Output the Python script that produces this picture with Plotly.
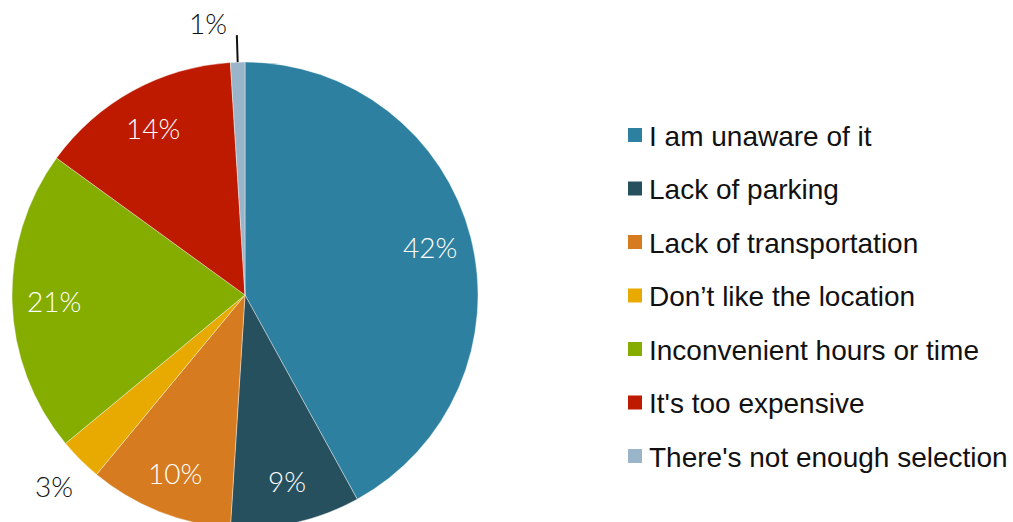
import math
import plotly.graph_objects as go

labels = ["I am unaware of it", "Lack of parking", "Lack of transportation",
          "Don\u2019t like the location", "Inconvenient hours or time",
          "It's too expensive", "There's not enough selection"]
values = [42, 9, 10, 3, 21, 14, 1]
colors = ["#2E80A0", "#27505F", "#D67B1F", "#E8AA00", "#84AD00", "#BD1A00", "#9AB5C9"]
label_place = ["inside", "inside", "inside", "outside", "inside", "inside", "leader"]

W, H = 1013, 530
# pie box in pixels
px0, px1, py0, py1 = 12, 478, 62, 528
cx, cy = (px0 + px1) / 2, (py0 + py1) / 2
R = (px1 - px0) / 2

fig = go.Figure()
fig.add_trace(go.Pie(
    labels=labels, values=values, sort=False, direction="clockwise", rotation=0,
    marker=dict(colors=colors, line=dict(color="white", width=0.4)),
    textinfo="none", showlegend=False, hoverinfo="label+percent",
    domain=dict(x=[px0 / W, px1 / W], y=[1 - py1 / H, 1 - py0 / H]),
))


def pt(angle_deg, r):
    a = math.radians(angle_deg)
    x = cx + r * math.sin(a)
    y = cy - r * math.cos(a)
    return x / W, 1 - y / H


pct_font = dict(family="Lato", size=28, weight=300)
total = sum(values)
cum = 0
for v, place in zip(values, label_place):
    mid = (cum + v / 2) / total * 360
    cum += v
    txt = f"{v}%"
    if place == "inside":
        x, y = pt(mid, 0.82 * R)
        fig.add_annotation(xref="paper", yref="paper", x=x, y=y, text=txt, showarrow=False,
                           xanchor="center", yanchor="middle",
                           font=dict(pct_font, color="white"))
    elif place == "outside":
        x, y = pt(mid, R + 37)
        fig.add_annotation(xref="paper", yref="paper", x=x, y=y, text=txt, showarrow=False,
                           xanchor="center", yanchor="middle",
                           font=dict(pct_font, color="#111111"))
    else:
        x0, y0 = pt(mid, R)
        x1, y1 = pt(mid, R + 27)
        fig.add_shape(type="line", xref="paper", yref="paper", x0=x0, y0=y0, x1=x1, y1=y1,
                      line=dict(color="#111111", width=2))
        fig.add_annotation(xref="paper", yref="paper", x=x1, y=y1, text=txt, showarrow=False,
                           xanchor="right", yanchor="middle", xshift=-8, yshift=12,
                           font=dict(pct_font, color="#111111"))

# legend drawn manually for exact spacing
leg_y0, leg_dy = 135, 53.5
sq = 14
for i, (lab, col) in enumerate(zip(labels, colors)):
    yc = leg_y0 + i * leg_dy
    fig.add_shape(type="rect", xref="paper", yref="paper",
                  x0=628 / W, x1=(628 + sq) / W,
                  y0=1 - (yc + sq / 2) / H, y1=1 - (yc - sq / 2) / H,
                  fillcolor=col, line=dict(width=0))
    fig.add_annotation(xref="paper", yref="paper", x=648 / W, y=1 - yc / H,
                       text=lab, showarrow=False, xanchor="left", yanchor="middle",
                       yshift=-1, borderpad=0,
                       font=dict(family="Liberation Sans", size=28, color="#111111"))

fig.update_layout(width=W, height=H, margin=dict(l=0, r=0, t=0, b=0),
                  paper_bgcolor="white", plot_bgcolor="white",
                  font=dict(family="Liberation Sans"))

fig.write_html("out.html", post_script="document.documentElement.style.overflow='hidden';document.body.style.overflow='hidden';")
